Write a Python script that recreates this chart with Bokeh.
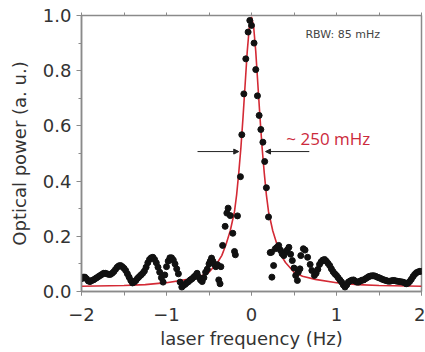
from bokeh.plotting import figure
from bokeh.models import LinearAxis, Range1d, FixedTicker, Arrow, NormalHead, Label
from bokeh.embed import file_html
from bokeh.resources import INLINE

# ---------------- data ----------------
# measured spectrum, left wing
left_wing_x = [-2.00, -1.98, -1.96, -1.94, -1.92, -1.90, -1.88, -1.86, -1.84, -1.82,
               -1.80, -1.78, -1.76, -1.74, -1.72, -1.70, -1.68, -1.66, -1.64, -1.62,
               -1.60, -1.58, -1.56, -1.54, -1.52, -1.50, -1.48, -1.46, -1.44, -1.42,
               -1.40, -1.38, -1.36, -1.34, -1.32, -1.30, -1.28, -1.26, -1.24, -1.22,
               -1.20, -1.18, -1.16, -1.14, -1.12, -1.10, -1.08, -1.06, -1.04, -1.02,
               -1.00, -0.98, -0.96, -0.94, -0.92, -0.90, -0.88, -0.86, -0.84, -0.82,
               -0.80, -0.78, -0.76, -0.74, -0.72, -0.70, -0.68, -0.66, -0.64, -0.62,
               -0.60, -0.58, -0.56]
left_wing_y = [0.046, 0.052, 0.052, 0.046, 0.038, 0.036, 0.040, 0.042, 0.046, 0.050,
               0.054, 0.058, 0.062, 0.066, 0.066, 0.064, 0.062, 0.062, 0.066, 0.072,
               0.080, 0.088, 0.093, 0.094, 0.090, 0.084, 0.076, 0.064, 0.052, 0.040,
               0.031, 0.034, 0.040, 0.048, 0.054, 0.060, 0.066, 0.074, 0.088, 0.104,
               0.116, 0.122, 0.124, 0.116, 0.104, 0.088, 0.070, 0.050, 0.034, 0.060,
               0.090, 0.110, 0.122, 0.122, 0.114, 0.100, 0.082, 0.064, 0.034, 0.016,
               0.022, 0.026, 0.032, 0.036, 0.042, 0.046, 0.052, 0.058, 0.066, 0.052,
               0.042, 0.036, 0.050]

# measured spectrum, central part
center_x = [-0.54, -0.52, -0.50, -0.485, -0.47, -0.455, -0.44, -0.42, -0.40, -0.385,
            -0.37, -0.36, -0.34, -0.31, -0.29, -0.275, -0.25, -0.22, -0.20, -0.19,
            -0.165, -0.13, -0.114, -0.09, -0.067, -0.04, -0.02, 0.00, 0.03, 0.05,
            0.07, 0.09, 0.11, 0.134, 0.155, 0.175, 0.20, 0.22, 0.235, 0.24,
            0.26, 0.28, 0.30, 0.32, 0.34, 0.36, 0.38, 0.40, 0.42, 0.44,
            0.46, 0.48, 0.50, 0.52, 0.54, 0.55, 0.57, 0.58, 0.61, 0.63,
            0.66, 0.69, 0.71, 0.74, 0.76]
center_y = [0.070, 0.081, 0.100, 0.110, 0.121, 0.110, 0.100, 0.090, 0.097, 0.042,
            0.028, 0.090, 0.167, 0.236, 0.284, 0.302, 0.275, 0.211, 0.145, 0.133,
            0.274, 0.416, 0.568, 0.716, 0.843, 0.940, 0.982, 0.964, 0.900, 0.804,
            0.709, 0.638, 0.587, 0.541, 0.471, 0.376, 0.270, 0.141, 0.142, 0.052,
            0.094, 0.155, 0.160, 0.167, 0.150, 0.137, 0.130, 0.142, 0.150, 0.160,
            0.135, 0.112, 0.085, 0.058, 0.040, 0.070, 0.082, 0.130, 0.155, 0.150,
            0.124, 0.098, 0.076, 0.058, 0.066]

# measured spectrum, right wing
right_wing_x = [0.78, 0.80, 0.82, 0.84, 0.86, 0.88, 0.90, 0.92, 0.94, 0.96,
                0.98, 1.00, 1.02, 1.04, 1.06, 1.08, 1.10, 1.12, 1.14, 1.16,
                1.18, 1.20, 1.22, 1.24, 1.26, 1.28, 1.30, 1.32, 1.34, 1.36,
                1.38, 1.40, 1.42, 1.44, 1.46, 1.48, 1.50, 1.52, 1.54, 1.56,
                1.58, 1.60, 1.62, 1.64, 1.66, 1.68, 1.70, 1.72, 1.74, 1.76,
                1.78, 1.80, 1.82, 1.84, 1.86, 1.88, 1.90, 1.92, 1.94, 1.96,
                1.98, 2.00]
right_wing_y = [0.080, 0.098, 0.108, 0.114, 0.116, 0.110, 0.102, 0.094, 0.082, 0.072,
                0.064, 0.058, 0.050, 0.042, 0.034, 0.024, 0.016, 0.024, 0.034, 0.038,
                0.041, 0.042, 0.038, 0.034, 0.034, 0.038, 0.041, 0.042, 0.046, 0.050,
                0.054, 0.056, 0.057, 0.057, 0.055, 0.052, 0.050, 0.047, 0.044, 0.042,
                0.040, 0.038, 0.037, 0.038, 0.040, 0.040, 0.038, 0.037, 0.036, 0.035,
                0.034, 0.032, 0.028, 0.030, 0.036, 0.044, 0.054, 0.062, 0.068, 0.071,
                0.073, 0.073]

# fitted curve
fit_x = [-2.0, -1.5, -1.25, -1.0, -0.75, -0.6, -0.5, -0.4, -0.35, -0.3, -0.25,
         -0.2, -0.175, -0.15, -0.125, -0.1, -0.075, -0.05, -0.025, 0.0,
         0.025, 0.05, 0.075, 0.1, 0.125, 0.15, 0.175, 0.2, 0.25, 0.3, 0.35,
         0.4, 0.5, 0.6, 0.75, 1.0, 1.25, 1.5, 2.0]
fit_y = [0.019, 0.022, 0.025, 0.032, 0.044, 0.055, 0.070, 0.105, 0.130, 0.170, 0.220,
         0.290, 0.350, 0.430, 0.520, 0.630, 0.750, 0.870, 0.960, 0.995,
         0.960, 0.870, 0.750, 0.630, 0.520, 0.430, 0.350, 0.290, 0.220, 0.170, 0.130,
         0.105, 0.070, 0.055, 0.044, 0.032, 0.025, 0.022, 0.019]

x_ticks = [-2, -1, 0, 1, 2]
x_minor = [-2, -1.5, -1, -0.5, 0, 0.5, 1, 1.5, 2]
y_ticks = [0.0, 0.2, 0.4, 0.6, 0.8, 1.0]
y_minor = [0.0, 0.1, 0.2, 0.3, 0.4, 0.5, 0.6, 0.7, 0.8, 0.9, 1.0]
y_tick_labels = {0.0: "0.0", 0.2: "0.2", 0.4: "0.4", 0.6: "0.6", 0.8: "0.8", 1.0: "1.0"}

FONT = "DejaVu Sans"
AXIS_COL = "#8a8a8a"
TEXT_COL = "#333333"

p = figure(width=425, height=352, output_backend="svg", toolbar_location=None,
           x_range=Range1d(-2, 2), y_range=Range1d(0, 1.0),
           min_border_left=81, min_border_right=4, min_border_top=15, min_border_bottom=61)
p.background_fill_color = "white"
p.border_fill_color = "white"
p.grid.visible = False
p.outline_line_color = AXIS_COL
p.outline_line_width = 1.5

# bottom axis
xa = p.xaxis[0]
xa.ticker = FixedTicker(ticks=x_ticks, minor_ticks=x_minor)
xa.axis_label = "laser frequency (Hz)"
for ax in (xa, p.yaxis[0]):
    ax.axis_line_color = AXIS_COL
    ax.axis_line_width = 1.5
    ax.major_tick_line_color = AXIS_COL
    ax.minor_tick_line_color = AXIS_COL
    ax.major_tick_in = 0
    ax.minor_tick_in = 0
    ax.major_label_text_font = FONT
    ax.major_label_text_font_size = "18px"
    ax.major_label_text_color = TEXT_COL
    ax.axis_label_text_font = FONT
    ax.axis_label_text_font_size = "18px"
    ax.axis_label_text_font_style = "normal"
    ax.axis_label_text_color = TEXT_COL
xa.major_tick_out = 4
xa.minor_tick_out = 4
xa.major_label_standoff = 12
xa.axis_label_standoff = 4

ya = p.yaxis[0]
ya.ticker = FixedTicker(ticks=y_ticks, minor_ticks=y_minor)
ya.major_label_overrides = y_tick_labels
ya.axis_label = "Optical power (a. u.)"
ya.major_tick_out = 5
ya.minor_tick_out = 3
ya.major_label_standoff = 5
ya.axis_label_standoff = 10

# top axis with ticks only (no labels)
ta = LinearAxis(ticker=FixedTicker(ticks=x_minor),
                major_label_overrides={t: "" for t in x_minor},
                major_tick_out=3, major_tick_in=0, minor_tick_out=0, minor_tick_in=0,
                axis_line_color=AXIS_COL, major_tick_line_color=AXIS_COL,
                major_label_standoff=0)
p.add_layout(ta, "above")

# fit line
p.line(fit_x, fit_y, line_color="#d42a35", line_width=1.6)

# data dots
p.scatter(left_wing_x, left_wing_y, size=6, color="#111111")
p.scatter(center_x, center_y, size=6, color="#111111")
p.scatter(right_wing_x, right_wing_y, size=6, color="#111111")

# FWHM arrows
p.add_layout(Arrow(x_start=-0.635, y_start=0.507, x_end=-0.15, y_end=0.507,
                   line_color="#222222", line_width=1,
                   end=NormalHead(size=5, fill_color="#222222", line_color="#222222")))
p.add_layout(Arrow(x_start=0.68, y_start=0.507, x_end=0.165, y_end=0.507,
                   line_color="#222222", line_width=1,
                   end=NormalHead(size=5, fill_color="#222222", line_color="#222222")))

p.add_layout(Label(x=0.41, y=0.555, text="~ 250 mHz", text_font="Open Sans",
                   text_font_size="17px", text_color="#cc2a3c", text_baseline="middle"))
p.add_layout(Label(x=0.635, y=0.931, text="RBW: 85 mHz", text_font=FONT,
                   text_font_size="11px", text_color="#444444", text_baseline="middle"))

open("out.html", "w").write(file_html(p, INLINE))
